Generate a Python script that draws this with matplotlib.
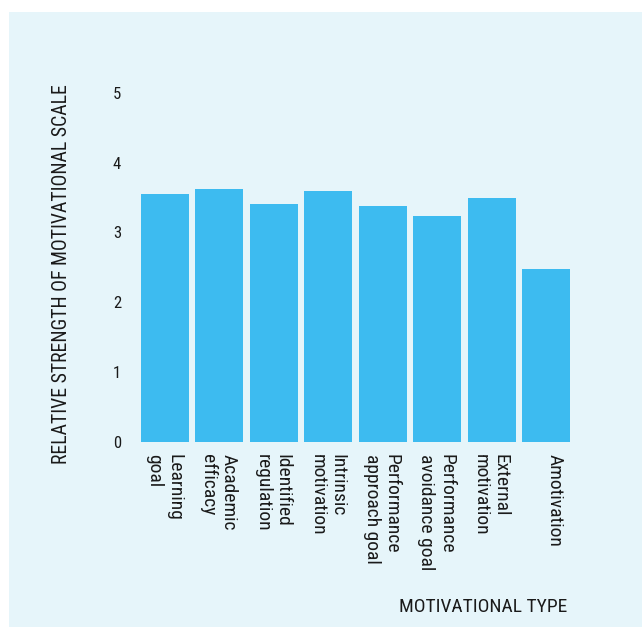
import matplotlib
matplotlib.use("Agg")
import matplotlib.pyplot as plt
from matplotlib.patches import Rectangle
from matplotlib.transforms import ScaledTranslation

categories = ["Learning\ngoal", "Academic\nefficacy", "Identified\nregulation",
              "Intrinsic\nmotivation", "Performance\napproach goal",
              "Performance\navoidance goal", "External\nmotivation", "Amotivation"]
values = [3.55, 3.62, 3.41, 3.59, 3.38, 3.24, 3.49, 2.48]
yticks = [0, 1, 2, 3, 4, 5]

FONT = ["Roboto Condensed", "DejaVu Sans"]
plt.rcParams["font.family"] = FONT
TXT = "#1a1a1a"
BG = "#e6f5fa"
BAR = "#3dbbf0"

fig = plt.figure(figsize=(6.42, 6.27), dpi=100)
fig.patch.set_facecolor("white")
fig.patches.append(Rectangle((9 / 642, 0), 1 - 9 / 642, 1 - 12 / 627,
                             transform=fig.transFigure, facecolor=BG,
                             edgecolor="none", zorder=-5))

ax = fig.add_axes([137.8 / 642, (627 - 441.5) / 627, 435.4 / 642, 348.5 / 627])
ax.set_zorder(2)
ax.set_facecolor("none")
x = list(range(len(categories)))
ax.bar(x, values, width=0.88, color=BAR, zorder=2)
ax.set_xlim(-0.5, len(categories) - 0.5)
ax.set_ylim(0, 5)
for s in ax.spines.values():
    s.set_visible(False)
ax.set_yticks(yticks)
ax.set_yticklabels([str(t) for t in yticks], fontsize=12, color=TXT)
ax.tick_params(axis="y", length=0, pad=12)
ax.set_xticks([])

for xi, lab in zip(x, categories):
    for k, line in enumerate(lab.split("\n")):
        off = ScaledTranslation((4 - 20 * k) / 100, -12 / 100, fig.dpi_scale_trans)
        ax.text(xi, 0, line, transform=ax.get_xaxis_transform() + off,
                rotation=-90, rotation_mode="anchor", ha="left", va="baseline",
                fontsize=14, color=TXT)

fig.text(62 / 642, 1 - 274 / 627, "RELATIVE STRENGTH OF MOTIVATIONAL SCALE",
         rotation=90, ha="center", va="center", fontsize=14.2, color=TXT)
fig.text(567 / 642, 15 / 627, "MOTIVATIONAL TYPE", ha="right", va="baseline",
         fontsize=14, color=TXT)

fig.savefig("out.png", dpi=100, facecolor="white")
